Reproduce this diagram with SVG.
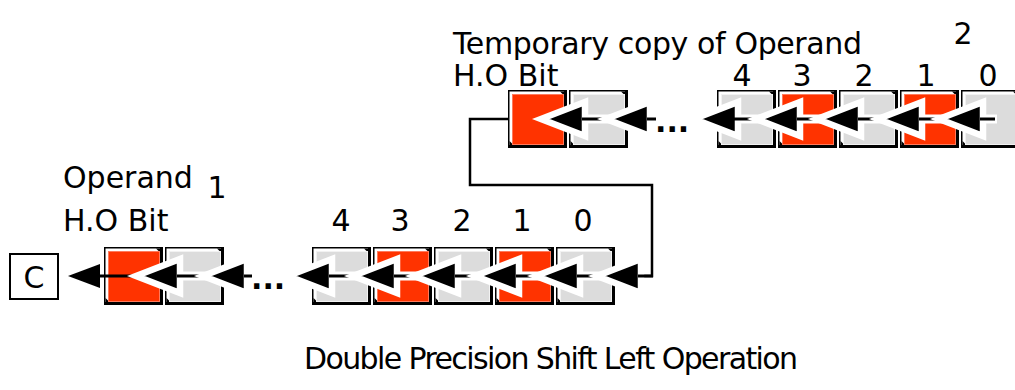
<svg xmlns="http://www.w3.org/2000/svg" xmlns:xlink="http://www.w3.org/1999/xlink" width="1015" height="390" viewBox="0 0 1015 390">
<style>
  text { font-family: "DejaVu Sans", "Liberation Sans", sans-serif; font-size: 30px; fill: #000; }
  .red { fill: #ff3300; stroke: #ff7a5c; stroke-width: 1; }
  .gray { fill: #dcdcdc; stroke: #f2f2f2; stroke-width: 1; }
  .head { fill: #000; stroke: #fff; stroke-width: 6.5; stroke-linejoin: miter; stroke-miterlimit: 10; }
  .plain { fill: #000; }
  .halo { stroke: #fff; stroke-width: 9; fill: none; }
  .stem { stroke: #000; stroke-width: 3; fill: none; }
  .wire { stroke: #000; stroke-width: 2.5; fill: none; }
  .dots { font-weight: bold; }
</style>
<defs>
  <g id="frame">
    <rect width="59" height="58" fill="#000"/>
    <rect x="1.5" y="1.5" width="54.5" height="53.5" fill="#fff"/>
    <polygon points="52,1.5 56,1.5 56,5.5" fill="#000"/>
    <polygon points="1.5,51 5.5,55 1.5,55" fill="#000"/>
  </g>
  <polygon id="ah" class="head" points="0,0 44,-17 44,17"/>
</defs>

<!-- Labels -->
<g id="labels">
  <text x="453" y="54" textLength="409" lengthAdjust="spacing">Temporary copy of Operand</text>
  <text x="963" y="44" text-anchor="middle">2</text>
  <text x="453" y="86">H.O Bit</text>
  <text x="742" y="86" text-anchor="middle">4</text>
  <text x="802" y="86" text-anchor="middle">3</text>
  <text x="864" y="86" text-anchor="middle">2</text>
  <text x="926" y="86" text-anchor="middle">1</text>
  <text x="988" y="86" text-anchor="middle">0</text>
  <text x="63" y="188">Operand</text>
  <text x="217" y="198" text-anchor="middle">1</text>
  <text x="63" y="231">H.O Bit</text>
  <text x="341" y="231" text-anchor="middle">4</text>
  <text x="400" y="231" text-anchor="middle">3</text>
  <text x="462" y="231" text-anchor="middle">2</text>
  <text x="522" y="231" text-anchor="middle">1</text>
  <text x="583" y="231" text-anchor="middle">0</text>
  <text x="304" y="369" textLength="494" lengthAdjust="spacing">Double Precision Shift Left Operation</text>
</g>

<!-- Operand 1 (bottom row) -->
<g id="op1-ho" transform="translate(104,247)"><use xlink:href="#frame"/><rect class="red" x="4.5" y="4.5" width="51" height="50"/></g>
<g id="op1-ho1" transform="translate(165,247)"><use xlink:href="#frame"/><rect class="gray" x="4.5" y="4.5" width="51" height="50"/></g>
<g id="op1-b4" transform="translate(312,247)"><use xlink:href="#frame"/><rect class="gray" x="4.5" y="4.5" width="51" height="50"/></g>
<g id="op1-b3" transform="translate(373,247)"><use xlink:href="#frame"/><rect class="red" x="4.5" y="4.5" width="51" height="50"/></g>
<g id="op1-b2" transform="translate(434,247)"><use xlink:href="#frame"/><rect class="gray" x="4.5" y="4.5" width="51" height="50"/></g>
<g id="op1-b1" transform="translate(495,247)"><use xlink:href="#frame"/><rect class="red" x="4.5" y="4.5" width="51" height="50"/></g>
<g id="op1-b0" transform="translate(556,247)"><use xlink:href="#frame"/><rect class="gray" x="4.5" y="4.5" width="51" height="50"/></g>

<!-- Temporary copy of Operand 2 (top row) -->
<g id="op2-ho" transform="translate(508,90)"><use xlink:href="#frame"/><rect class="red" x="4.5" y="4.5" width="51" height="50"/></g>
<g id="op2-ho1" transform="translate(569,90)"><use xlink:href="#frame"/><rect class="gray" x="4.5" y="4.5" width="51" height="50"/></g>
<g id="op2-b4" transform="translate(717,90)"><use xlink:href="#frame"/><rect class="gray" x="4.5" y="4.5" width="51" height="50"/></g>
<g id="op2-b3" transform="translate(778,90)"><use xlink:href="#frame"/><rect class="red" x="4.5" y="4.5" width="51" height="50"/></g>
<g id="op2-b2" transform="translate(839,90)"><use xlink:href="#frame"/><rect class="gray" x="4.5" y="4.5" width="51" height="50"/></g>
<g id="op2-b1" transform="translate(900,90)"><use xlink:href="#frame"/><rect class="red" x="4.5" y="4.5" width="51" height="50"/></g>
<g id="op2-b0" transform="translate(961,90)"><use xlink:href="#frame"/><rect class="gray" x="4.5" y="4.5" width="51" height="50"/></g>

<!-- Connectors -->
<g id="connectors">
  <!-- bottom row, drawn left to right -->
  <polygon class="plain" points="68,276 100,264 100,288"/>
  <path class="stem" d="M98,276 H143"/>

  <path class="halo" d="M178,276 H210"/>
  <use xlink:href="#ah" x="136" y="276"/>
  <path class="stem" d="M177,276 H210"/>

  <path class="halo" d="M245,276 H251"/>
  <use xlink:href="#ah" x="203" y="276"/>
  <path class="stem" d="M244,276 H252"/>

  <path class="halo" d="M330,276 H359"/>
  <use xlink:href="#ah" x="288" y="276"/>
  <path class="stem" d="M329,276 H359"/>

  <path class="halo" d="M394,276 H420"/>
  <use xlink:href="#ah" x="353" y="276"/>
  <path class="stem" d="M394,276 H420"/>

  <path class="halo" d="M455,276 H481"/>
  <use xlink:href="#ah" x="414" y="276"/>
  <path class="stem" d="M455,276 H481"/>

  <path class="halo" d="M516,276 H542"/>
  <use xlink:href="#ah" x="475" y="276"/>
  <path class="stem" d="M516,276 H542"/>

  <path class="halo" d="M577,276 H603"/>
  <use xlink:href="#ah" x="536" y="276"/>
  <path class="stem" d="M577,276 H603"/>

  <path class="wire" d="M508,119 H470 V185 H652 V276 H638"/>
  <use xlink:href="#ah" x="597" y="276"/>
  <path class="stem" d="M638,276 H653"/>

  <!-- top row -->
  <path class="halo" d="M582,119 H612"/>
  <use xlink:href="#ah" x="541" y="119"/>
  <path class="stem" d="M582,119 H612"/>

  <path class="halo" d="M647,119 H655"/>
  <use xlink:href="#ah" x="606" y="119"/>
  <path class="stem" d="M647,119 H656"/>

  <path class="halo" d="M735,119 H762"/>
  <use xlink:href="#ah" x="694" y="119"/>
  <path class="stem" d="M733,119 H762"/>

  <path class="halo" d="M797,119 H823"/>
  <use xlink:href="#ah" x="756" y="119"/>
  <path class="stem" d="M797,119 H823"/>

  <path class="halo" d="M858,119 H884"/>
  <use xlink:href="#ah" x="817" y="119"/>
  <path class="stem" d="M858,119 H884"/>

  <path class="halo" d="M919,119 H945"/>
  <use xlink:href="#ah" x="878" y="119"/>
  <path class="stem" d="M919,119 H945"/>

  <path class="halo" d="M980,119 H997"/>
  <use xlink:href="#ah" x="939" y="119"/>
  <path class="stem" d="M980,119 H995"/>

  <text class="dots" x="251" y="289">...</text>
  <text class="dots" x="655" y="132">...</text>
</g>

<!-- Carry flag -->
<g id="carry">
  <rect x="10" y="254" width="48" height="45" fill="#fff" stroke="#000" stroke-width="2"/>
  <text x="34" y="288" text-anchor="middle">C</text>
</g>
</svg>
